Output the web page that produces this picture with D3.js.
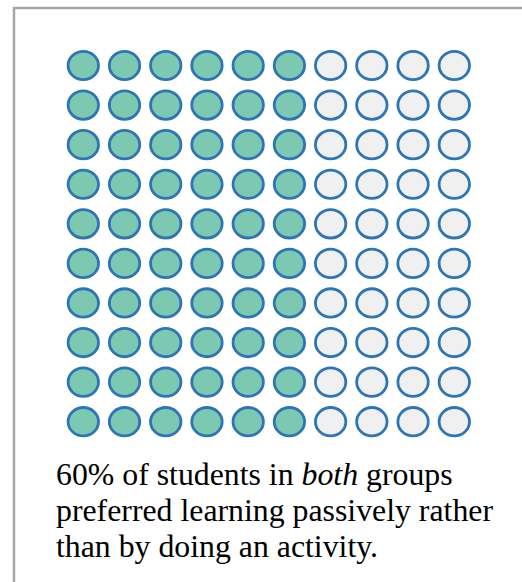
<html><head><meta charset="utf-8"><script src="https://cdn.jsdelivr.net/npm/d3@7"></script>
<style>
  text.cap, text.cap tspan { font-family: "Liberation Serif", "Times New Roman", Tinos, "DejaVu Serif", serif !important; }
</style>
</head>
<body style="margin:0">
<svg id="s" width="522" height="582"></svg>
<script>
// ---- data ----
const groups = ["Preferred learning passively", "Preferred doing an activity"];
const groupCounts = [60, 40];
const gridColumns = [0, 1, 2, 3, 4, 5, 6, 7, 8, 9];
const gridRows = [0, 1, 2, 3, 4, 5, 6, 7, 8, 9];
const captionLines = [
  [{ t: "60% of students in ", i: false }, { t: "both", i: true }, { t: " groups", i: false }],
  [{ t: "preferred learning passively rather", i: false }],
  [{ t: "than by doing an activity.", i: false }]
];

// ---- styles ----
const fillColors = ["#7DC8B0", "#F0F0F0"];
const strokeColor = "#2E75B6";

const svg = d3.select("#s");

// frame
svg.append("path")
  .attr("d", "M14,590 L14,8 L530,8")
  .attr("fill", "none")
  .attr("stroke", "#A6A6A6")
  .attr("stroke-width", 2.5);

const x = d3.scaleLinear().domain([0, gridColumns.length - 1]).range([83.3, 454.3]);
const y = d3.scaleLinear().domain([0, gridRows.length - 1]).range([65.5, 421.7]);

// build cells: fill column by column
const cells = [];
gridColumns.forEach(c => gridRows.forEach(r => cells.push({ c, r, idx: c * gridRows.length + r })));
const cumulative = Array.from(d3.cumsum(groupCounts));
cells.forEach(d => { d.g = cumulative.findIndex(v => d.idx < v); });

svg.append("g").selectAll("ellipse")
  .data(cells)
  .join("ellipse")
  .attr("cx", d => x(d.c))
  .attr("cy", d => y(d.r))
  .attr("rx", 15.2)
  .attr("ry", 14.2)
  .attr("fill", d => fillColors[d.g])
  .attr("stroke", strokeColor)
  .attr("stroke-width", 2.8);

// caption
const baselines = [485, 521, 557];
captionLines.forEach((line, li) => {
  const t = svg.append("text")
    .attr("class", "cap")
    .attr("x", 56).attr("y", baselines[li])
    .attr("font-family", "Liberation Serif")
    .style("font-size", "31.8px")
    .attr("fill", "#000");
  line.forEach(seg => {
    const s = t.append("tspan").text(seg.t);
    if (seg.i) s.style("font-style", "italic");
  });
});
</script></body></html>
